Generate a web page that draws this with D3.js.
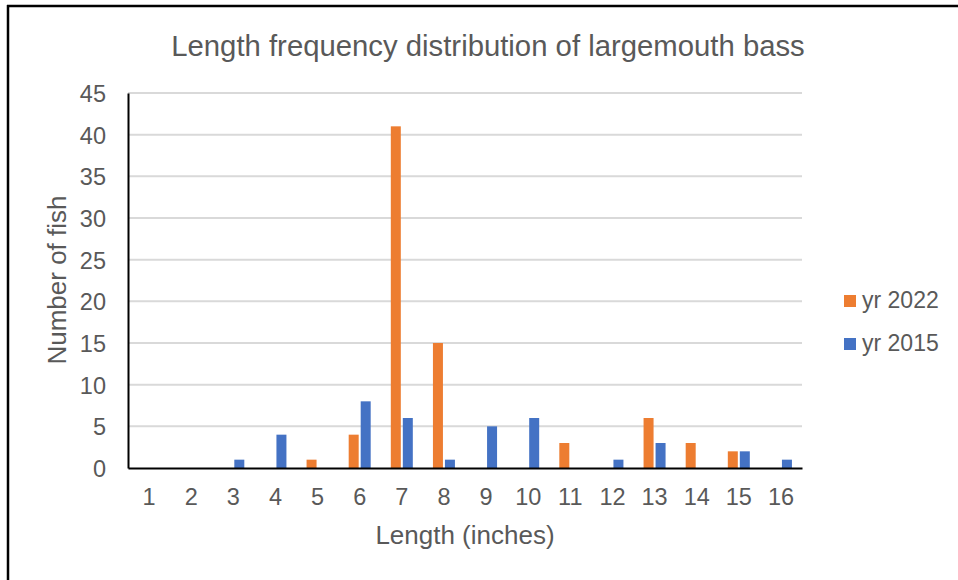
<!DOCTYPE html>
<html><head><meta charset="utf-8">
<script src="https://cdn.jsdelivr.net/npm/d3@7"></script>
<style>
html,body{margin:0;padding:0;background:#fff;}
svg{display:block;font-family:"Liberation Sans",Arial,sans-serif;}
</style></head>
<body>
<script>
const categories = ["1","2","3","4","5","6","7","8","9","10","11","12","13","14","15","16"];
const seriesNames = ["yr 2022","yr 2015"];
const yr2022 = [0,0,0,0,1,4,41,15,0,0,3,0,6,3,2,0];
const yr2015 = [0,0,1,4,0,8,6,1,5,6,0,1,3,0,2,1];
const yTicks = [0,5,10,15,20,25,30,35,40,45];
const colors = ["#ED7D31","#4472C4"];

(function(){
const W=958,H=580;
const svg=d3.select("body").append("svg").attr("width",W).attr("height",H);
svg.append("rect").attr("width",W).attr("height",H).attr("fill","#fff");

const pL=128,pR=802,pT=93,pB=468;
const x=d3.scaleBand().domain(categories).range([pL,pR]).padding(0);
const y=d3.scaleLinear().domain([0,45]).range([pB,pT]);

// gridlines
svg.append("g").selectAll("line").data(yTicks.filter(d=>d>0)).join("line")
  .attr("x1",pL).attr("x2",pR).attr("y1",d=>y(d)).attr("y2",d=>y(d))
  .attr("stroke","#d9d9d9").attr("stroke-width",2);

// bars
const bw=10, gap=1;
const data=[yr2022,yr2015];
data.forEach((vals,si)=>{
  svg.append("g").selectAll("rect").data(vals.map((v,i)=>({c:categories[i],v}))).join("rect")
    .attr("x",d=>x(d.c)+x.bandwidth()/2+(si===0?-(bw+gap):gap))
    .attr("width",bw)
    .attr("y",d=>y(d.v))
    .attr("height",d=>y(0)-y(d.v))
    .attr("fill",colors[si]);
});

// axes
const yAxis=d3.axisLeft(y).tickValues(yTicks).tickSize(0).tickPadding(22);
const gy=svg.append("g").attr("transform",`translate(${pL},0)`).call(yAxis);
gy.select(".domain").attr("stroke","#000").attr("stroke-width",2);
gy.selectAll("text").attr("font-size",23.5).attr("fill","#595959").attr("font-family","Liberation Sans, Arial, sans-serif").attr("dy","0.36em");

const xAxis=d3.axisBottom(x).tickSize(0).tickPadding(20);
const gx=svg.append("g").attr("transform",`translate(0,${pB})`).call(xAxis);
gx.select(".domain").attr("stroke","#000").attr("stroke-width",2);
gx.selectAll("text").attr("font-size",23.5).attr("fill","#595959").attr("font-family","Liberation Sans, Arial, sans-serif");

// titles
svg.append("text").attr("x",488).attr("y",56).attr("text-anchor","middle")
  .attr("font-size",29.3).attr("fill","#595959").text("Length frequency distribution of largemouth bass");
svg.append("text").attr("x",465).attr("y",544).attr("text-anchor","middle")
  .attr("font-size",26).attr("fill","#595959").text("Length (inches)");
svg.append("text").attr("transform","translate(66,280) rotate(-90)").attr("text-anchor","middle")
  .attr("font-size",26).attr("fill","#595959").text("Number of fish");

// legend
const lg=svg.append("g");
seriesNames.forEach((n,i)=>{
  const ly=295+i*43;
  lg.append("rect").attr("x",844).attr("y",ly).attr("width",12).attr("height",12).attr("fill",colors[i]);
  lg.append("text").attr("x",862).attr("y",ly+13).attr("font-size",23).attr("fill","#595959").text(n);
});

// outer border (left and top)
svg.append("line").attr("x1",8).attr("x2",8).attr("y1",5).attr("y2",H).attr("stroke","#000").attr("stroke-width",2.5);
svg.append("line").attr("x1",7).attr("x2",W).attr("y1",6).attr("y2",6).attr("stroke","#000").attr("stroke-width",2.5);
})();
</script>
</body></html>
